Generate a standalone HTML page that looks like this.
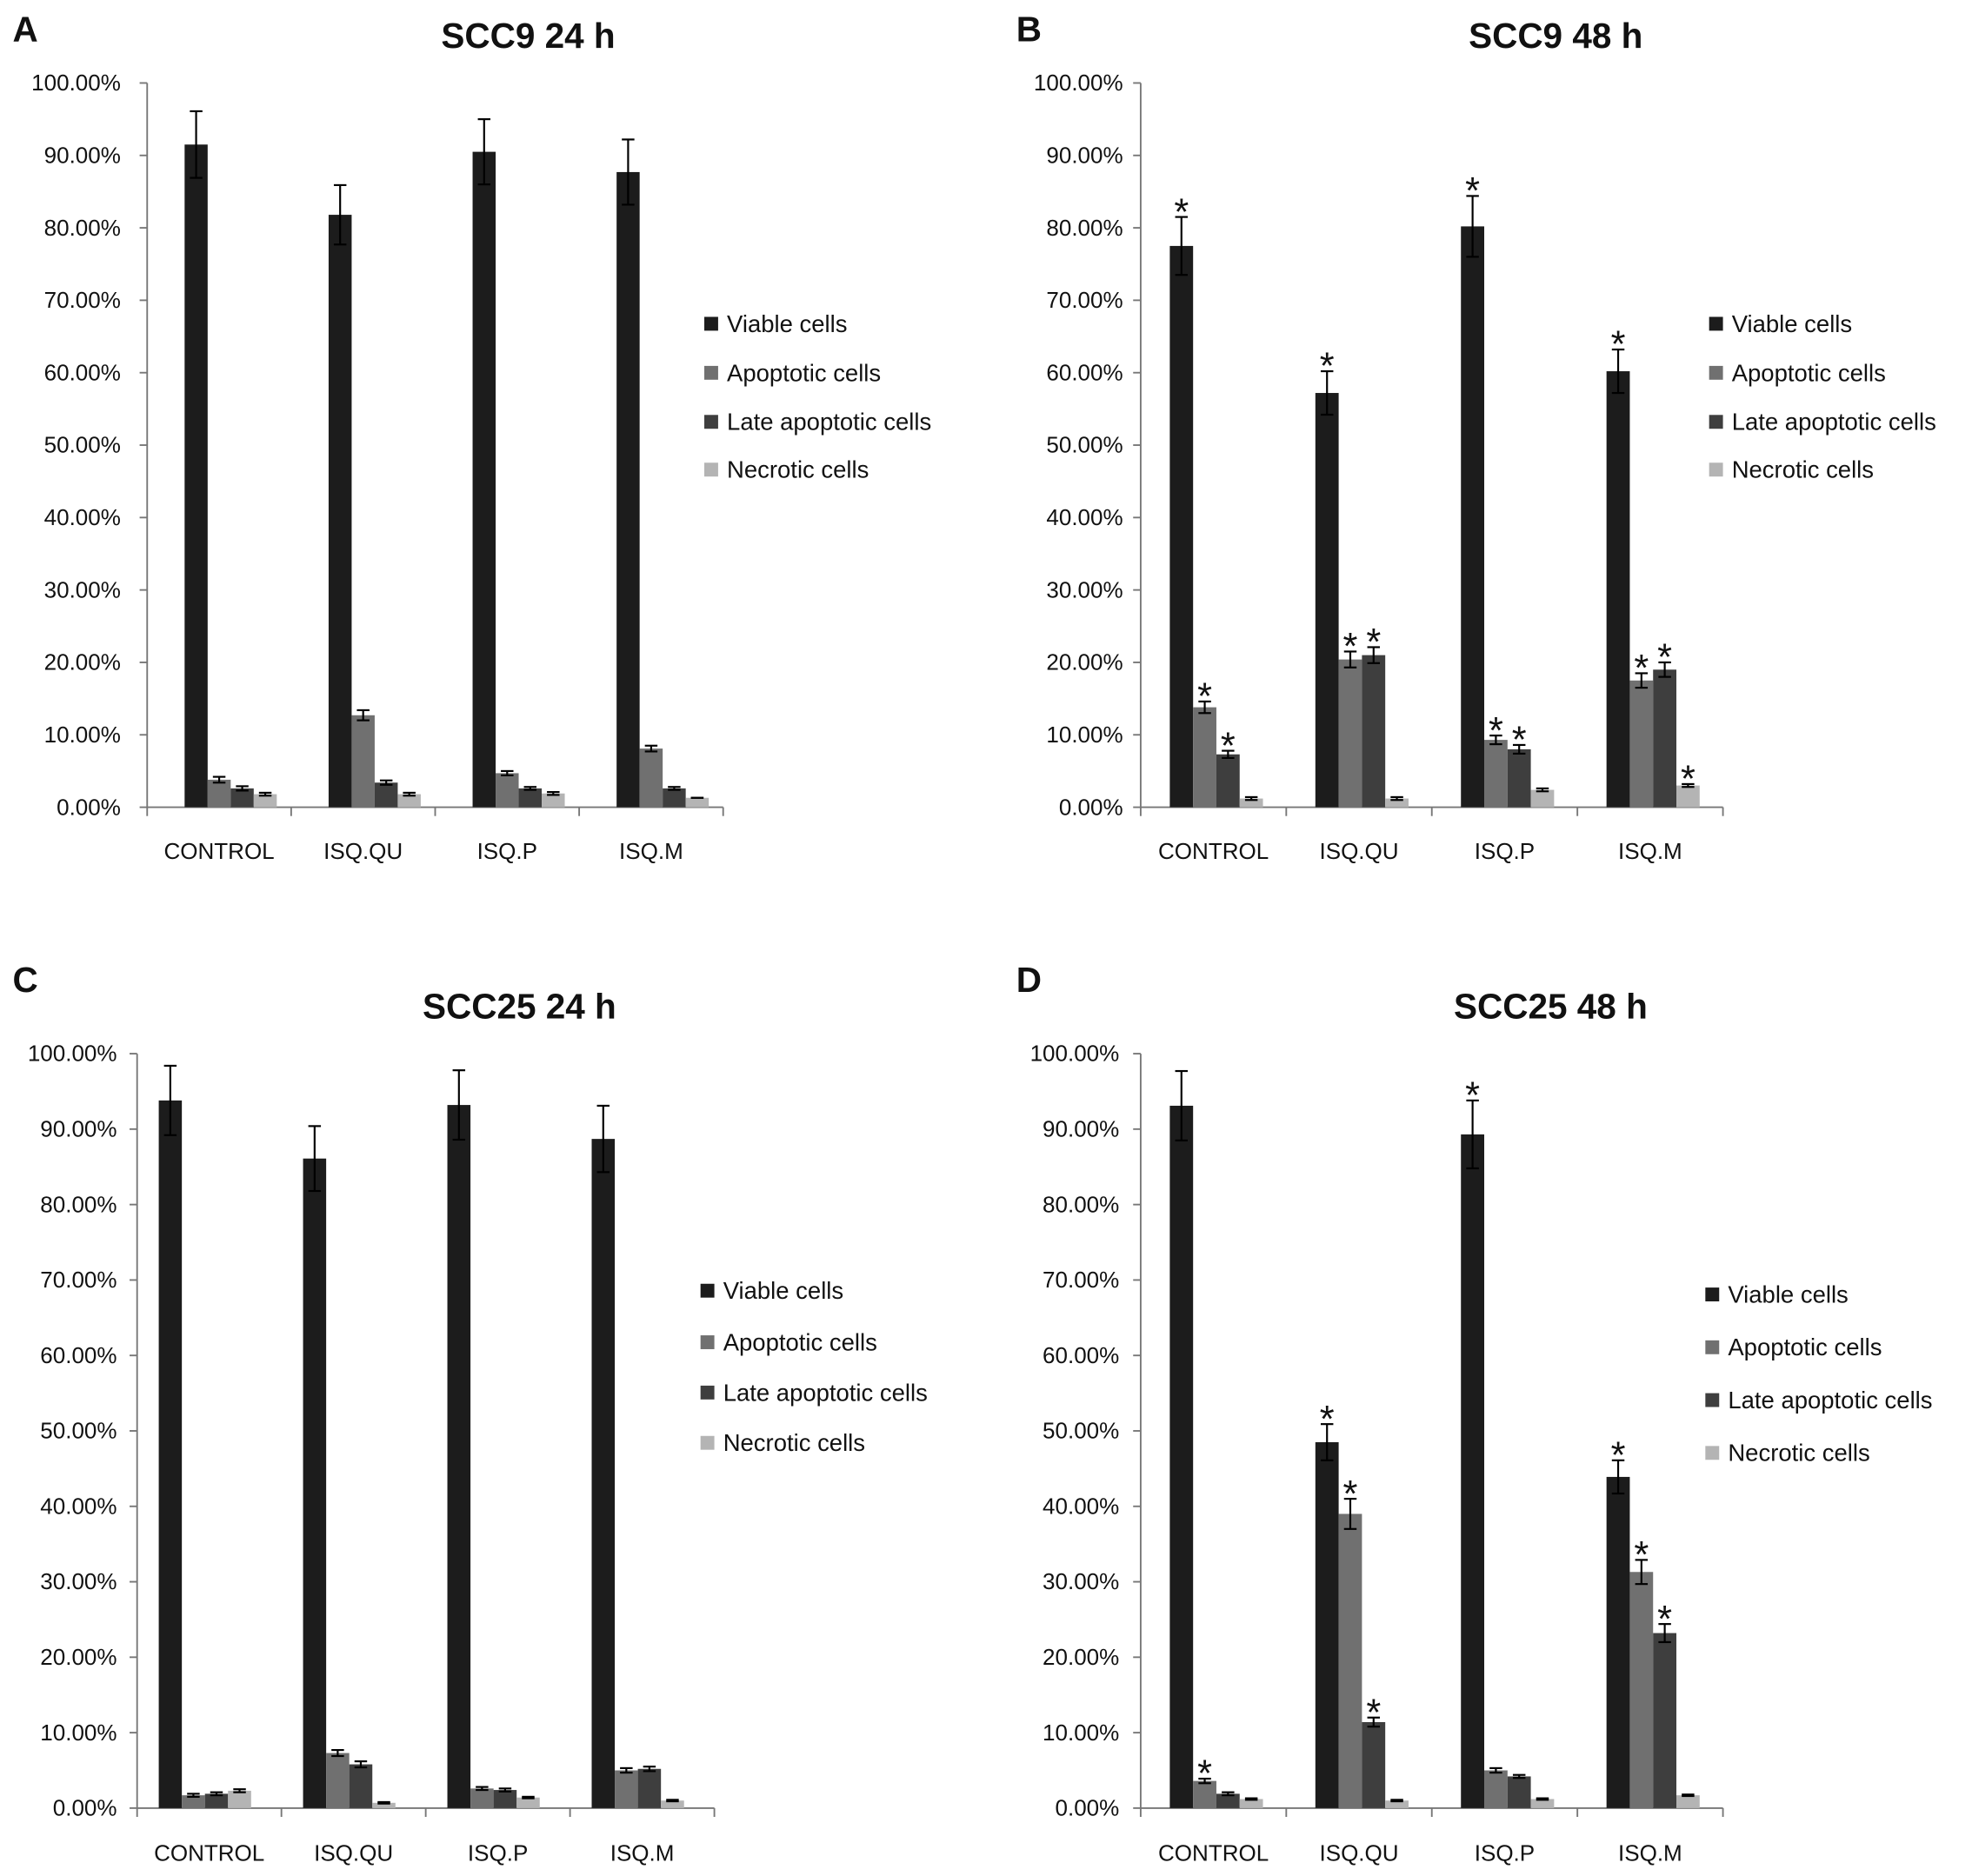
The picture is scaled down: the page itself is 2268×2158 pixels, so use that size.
<!DOCTYPE html>
<html><head><meta charset="utf-8"><style>
html,body{margin:0;padding:0;background:#fff}
svg{display:block}
text{font-family:"Liberation Sans",sans-serif;fill:#111}
</style></head><body>
<svg id="fig" width="2268" height="2158" viewBox="0 0 1568 1492" xmlns="http://www.w3.org/2000/svg"></svg>
<script>
const categories=["CONTROL","ISQ.QU","ISQ.P","ISQ.M"];
const seriesNames=["Viable cells","Apoptotic cells","Late apoptotic cells","Necrotic cells"];
const ticks=["0.00%","10.00%","20.00%","30.00%","40.00%","50.00%","60.00%","70.00%","80.00%","90.00%","100.00%"];
// panel A
const aViable=[91.5,81.8,90.5,87.7], aViableErr=[4.6,4.1,4.5,4.5];
const aApop=[3.8,12.7,4.7,8.1], aApopErr=[0.4,0.7,0.3,0.4];
const aLate=[2.6,3.4,2.6,2.6], aLateErr=[0.3,0.3,0.2,0.2];
const aNecr=[1.8,1.8,1.9,1.3], aNecrErr=[0.2,0.2,0.2,0];
// panel B
const bViable=[77.5,57.2,80.2,60.2], bViableErr=[4,3,4.2,3];
const bApop=[13.8,20.4,9.3,17.5], bApopErr=[0.8,1.1,0.6,1];
const bLate=[7.3,21,8,19], bLateErr=[0.5,1.1,0.6,1];
const bNecr=[1.2,1.2,2.4,3.0], bNecrErr=[0.2,0.2,0.2,0.2];
const bStars=[[1,1,1,1],[1,1,1,1],[1,1,1,1],[0,0,0,1]];
// panel C
const cViable=[93.8,86.1,93.2,88.7], cViableErr=[4.6,4.3,4.6,4.4];
const cApop=[1.7,7.3,2.6,5.0], cApopErr=[0.2,0.4,0.2,0.3];
const cLate=[1.9,5.8,2.4,5.2], cLateErr=[0.2,0.4,0.2,0.3];
const cNecr=[2.3,0.7,1.4,1.0], cNecrErr=[0.2,0.1,0.1,0.1];
// panel D
const dViable=[93.1,48.5,89.3,43.9], dViableErr=[4.6,2.4,4.5,2.2];
const dApop=[3.6,39,5,31.3], dApopErr=[0.3,2,0.3,1.6];
const dLate=[1.9,11.4,4.2,23.2], dLateErr=[0.2,0.6,0.2,1.2];
const dNecr=[1.2,1.0,1.2,1.7], dNecrErr=[0.1,0.1,0.1,0.1];
const dStars=[[0,1,1,1],[1,1,0,1],[0,1,0,1],[0,0,0,0]];

const colors=["#1c1c1c","#707070","#3e3e3e","#b4b4b4"];
const NS="http://www.w3.org/2000/svg";
const svg=document.getElementById("fig");
function mk(tag,attrs,parent){const e=document.createElementNS(NS,tag);for(const k in attrs)e.setAttribute(k,attrs[k]);(parent||svg).appendChild(e);return e;}

const panels=[
 {id:"a",letter:"A",title:"SCC9 24 h",tx:420,ty:38,lx:10,ly:33,x0:117,x1:575,y0:642,y100:66,labR:96,catY:683,legX:560,legY:[258,297,336,374],off:0.26,vals:[aViable,aApop,aLate,aNecr],errs:[aViableErr,aApopErr,aLateErr,aNecrErr],stars:null},
 {id:"b",letter:"B",title:"SCC9 48 h",tx:1237,ty:38,lx:808,ly:33,x0:907,x1:1370,y0:642,y100:66,labR:893,catY:683,legX:1359,legY:[258,297,336,374],off:0.2,vals:[bViable,bApop,bLate,bNecr],errs:[bViableErr,bApopErr,bLateErr,bNecrErr],stars:bStars},
 {id:"c",letter:"C",title:"SCC25 24 h",tx:413,ty:810,lx:10,ly:789,x0:109,x1:568,y0:1438,y100:838,labR:93,catY:1480,legX:557,legY:[1027,1068,1108,1148],off:0.15,vals:[cViable,cApop,cLate,cNecr],errs:[cViableErr,cApopErr,cLateErr,cNecrErr],stars:null},
 {id:"d",letter:"D",title:"SCC25 48 h",tx:1233,ty:810,lx:808,ly:789,x0:907,x1:1370,y0:1438,y100:838,labR:890,catY:1480,legX:1356,legY:[1030,1072,1114,1156],off:0.2,vals:[dViable,dApop,dLate,dNecr],errs:[dViableErr,dApopErr,dLateErr,dNecrErr],stars:dStars}
];

panels.forEach(p=>{
 const g=mk("g",{});
 
 
 const y=v=>p.y0-(v/100)*(p.y0-p.y100);
 const cw=(p.x1-p.x0)/categories.length;
 const bw=cw*0.16;
 const L=mk("text",{x:p.lx,y:p.ly,"font-size":28,"font-weight":"bold"},g);L.textContent=p.letter;
 
 
 const T=mk("text",{x:p.tx,y:p.ty,"font-size":28,"font-weight":"bold","text-anchor":"middle"},g);T.textContent=p.title;
 
 
 const ya=mk("line",{x1:p.x0,y1:p.y100,x2:p.x0,y2:p.y0,stroke:"#777","stroke-width":1.3},g);
 
 
 const xa=mk("line",{x1:p.x0,y1:p.y0,x2:p.x1,y2:p.y0,stroke:"#777","stroke-width":1.3},g);
 
 
 ticks.forEach((t,i)=>{
  const yy=y(i*10);
  mk("line",{x1:p.x0-6,y1:yy,x2:p.x0,y2:yy,stroke:"#777","stroke-width":1.3},g);
  const tl=mk("text",{x:p.labR,y:yy+6,"font-size":18,"text-anchor":"end"},g);tl.textContent=t;
  
  
 });
 for(let c=0;c<=categories.length;c++){
  const xx=p.x0+c*cw;
  mk("line",{x1:xx,y1:p.y0,x2:xx,y2:p.y0+7,stroke:"#777","stroke-width":1.3},g);
 }
 categories.forEach((cat,c)=>{
  const cl=mk("text",{x:p.x0+c*cw+cw/2,y:p.catY,"font-size":18,"text-anchor":"middle"},g);cl.textContent=cat;
  
  
  const start=p.x0+c*cw+cw*p.off;
  for(let s=0;s<4;s++){
   const v=p.vals[s][c],e=p.errs[s][c];
   const bx=start+s*bw;
   const r=mk("rect",{x:bx,y:y(v),width:bw,height:p.y0-y(v),fill:colors[s]},g);
   
   
   const cx=bx+bw/2;
   mk("line",{x1:cx,y1:y(v+e),x2:cx,y2:y(v-e),stroke:"#000","stroke-width":1.5},g);
   mk("line",{x1:cx-5,y1:y(v+e),x2:cx+5,y2:y(v+e),stroke:"#000","stroke-width":1.5},g);
   mk("line",{x1:cx-5,y1:y(v-e),x2:cx+5,y2:y(v-e),stroke:"#000","stroke-width":1.5},g);
   if(p.stars&&p.stars[s][c]){
    const st=mk("text",{x:cx,y:y(v+e)+6,"font-size":30,"text-anchor":"middle"},g);st.textContent="*";
    
    
   }
  }
 });
 seriesNames.forEach((n,s)=>{
  const ly=p.legY[s];
  const sq=mk("rect",{x:p.legX,y:ly-6,width:11,height:11,fill:colors[s]},g);
  
  
  const lt=mk("text",{x:p.legX+18,y:ly+6,"font-size":19},g);lt.textContent=n;
  
  
 });
});
</script>
</body></html>
